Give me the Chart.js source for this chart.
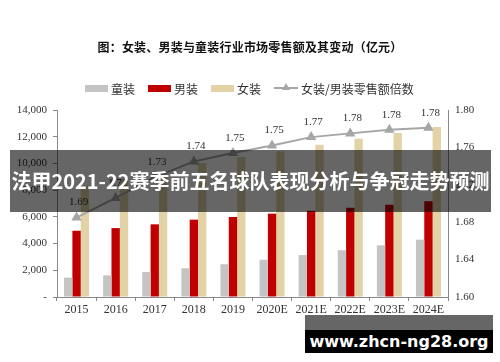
<!DOCTYPE html>
<html>
<head>
<meta charset="utf-8">
<script src="https://cdn.jsdelivr.net/npm/chart.js@4/dist/chart.umd.min.js"></script>
<style>
  html, body { margin: 0; padding: 0; background: #fff; }
  #wrap { position: relative; width: 500px; height: 362px; overflow: hidden; }
  #c { position: absolute; left: 0; top: 0; }
  #title { position: absolute; left: 0; width: 500px; top: 38px; text-align: center;
    font: bold 12px "Noto Sans CJK SC", sans-serif; color: #111; letter-spacing: 0.2px; }
  #legend { position: absolute; left: 85px; top: 80px; height: 16px; display: flex; align-items: center;
    font: 12px "Noto Sans CJK SC", serif; color: #333; }
  #legend .item { display: flex; align-items: center; margin-right: 13px; }
  #legend .box { width: 23px; height: 7px; margin-right: 3px; }
  #legend .ln { position: relative; width: 24px; height: 2px; margin-right: 3px; }
  #legend .tri { position: absolute; left: 8px; top: -4px; width: 0; height: 0;
    border-left: 4px solid transparent; border-right: 4px solid transparent; border-bottom: 7px solid #a6a6a6; }
  #band { position: absolute; left: 10px; top: 150px; width: 481px; height: 62px; background: rgba(0,0,0,0.6);
    color: #fff; font: bold 20px "Noto Sans CJK SC", sans-serif; line-height: 62px; text-align: center; white-space: nowrap; }
  #wm1 { position: absolute; left: 305px; top: 315px; width: 188px; height: 15px; background: rgba(0,0,0,0.6); }
  #wm2 { position: absolute; left: 305px; top: 330px; width: 188px; height: 23px; background: #000;
    color: #fff; font: bold 16px "DejaVu Sans", sans-serif; line-height: 23px; text-align: center; }
</style>
</head>
<body>
<div id="wrap">
  <canvas id="c" width="500" height="362"></canvas>
  <div id="title">图：女装、男装与童装行业市场零售额及其变动（亿元）</div>
  <div id="legend"></div>
  <div id="band">法甲2021-22赛季前五名球队表现分析与争冠走势预测</div>
  <div id="wm1"></div>
  <div id="wm2">www.zhcn-ng28.org</div>
</div>
<script>
// 年份与各品类零售额（亿元），读自原图
const years = ['2015', '2016', '2017', '2018', '2019', '2020E', '2021E', '2022E', '2023E', '2024E'];
const kidsWear = [1450, 1620, 1870, 2150, 2450, 2790, 3140, 3500, 3870, 4290];
const menWear = [4960, 5160, 5440, 5790, 5990, 6240, 6460, 6690, 6910, 7160];
const womenWear = [8330, 8800, 9400, 10030, 10480, 10920, 11400, 11850, 12280, 12730];
// 女装/男装倍数：绘制位置与标注文字
const ratioValues = [1.685, 1.706, 1.728, 1.745, 1.754, 1.762, 1.771, 1.775, 1.779, 1.781];
const ratioLabels = ['1.69', '1.71', '1.73', '1.74', '1.75', '1.75', '1.77', '1.78', '1.78', '1.78'];
const seriesNames = ['童装', '男装', '女装', '女装/男装零售额倍数'];

const colors = { kids: '#c4c4c4', men: '#c00000', women: '#e2d2a6', ratio: '#a6a6a6' };
const serif = '"Liberation Serif", "Times New Roman", serif';

// 图例（HTML）
const legend = document.getElementById('legend');
[colors.kids, colors.men, colors.women].forEach((col, i) => {
  legend.insertAdjacentHTML('beforeend',
    `<span class="item"><span class="box" style="background:${col}"></span>${seriesNames[i]}</span>`);
});
legend.insertAdjacentHTML('beforeend',
  `<span class="item"><span class="ln" style="background:${colors.ratio}"><span class="tri"></span></span>${seriesNames[3]}</span>`);

// 折线点上方的数值标注
const ratioLabelPlugin = {
  id: 'ratioLabels',
  afterDatasetsDraw(chart) {
    const meta = chart.getDatasetMeta(3);
    const ctx = chart.ctx;
    ctx.save();
    ctx.font = `11px ${serif}`;
    ctx.fillStyle = '#333';
    ctx.textAlign = 'center';
    ctx.textBaseline = 'middle';
    meta.data.forEach((pt, i) => {
      ctx.fillText(ratioLabels[i], pt.x + 2, pt.y - 15);
    });
    ctx.restore();
  }
};

const axisBase = {
  grid: { drawOnChartArea: false, tickLength: 4, color: '#888' },
  border: { display: true, color: '#888', width: 1 }
};

new Chart(document.getElementById('c'), {
  type: 'bar',
  data: {
    labels: years,
    datasets: [
      { label: seriesNames[0], data: kidsWear, backgroundColor: colors.kids, yAxisID: 'y', order: 1 },
      { label: seriesNames[1], data: menWear, backgroundColor: colors.men, yAxisID: 'y', order: 1 },
      { label: seriesNames[2], data: womenWear, backgroundColor: colors.women, yAxisID: 'y', order: 1 },
      {
        type: 'line', label: seriesNames[3], data: ratioValues, yAxisID: 'y1', order: 0,
        borderColor: colors.ratio, backgroundColor: colors.ratio, borderWidth: 2,
        pointStyle: 'triangle', pointRadius: 4, tension: 0
      }
    ]
  },
  options: {
    responsive: false,
    animation: false,
    maintainAspectRatio: false,
    categoryPercentage: 0.64,
    barPercentage: 1.0,
    layout: { padding: { top: 110, left: 0, right: 0, bottom: 0 } },
    plugins: { legend: { display: false }, tooltip: { enabled: false }, title: { display: false } },
    scales: {
      x: {
        ...axisBase,
        grid: { ...axisBase.grid, offset: true },
        ticks: { color: '#333', font: { family: serif, size: 12 }, padding: 2, maxRotation: 0, autoSkip: false },
        afterFit: s => { s.height = 65; }
      },
      y: {
        ...axisBase,
        position: 'left',
        min: 0, max: 14000,
        ticks: {
          stepSize: 2000, color: '#333', font: { family: serif, size: 11 }, padding: 6,
          callback: v => v === 0 ? '-' : v.toLocaleString('en-US')
        },
        afterFit: s => { s.width = 57; }
      },
      y1: {
        ...axisBase,
        position: 'right',
        min: 1.6, max: 1.8,
        grid: { drawOnChartArea: false, tickLength: 0, color: '#888' },
        ticks: {
          stepSize: 0.04, color: '#333', font: { family: serif, size: 11 }, padding: 7,
          callback: v => Number(v).toFixed(2)
        },
        afterFit: s => { s.width = 52; }
      }
    }
  },
  plugins: [ratioLabelPlugin]
});
</script>
</body>
</html>
